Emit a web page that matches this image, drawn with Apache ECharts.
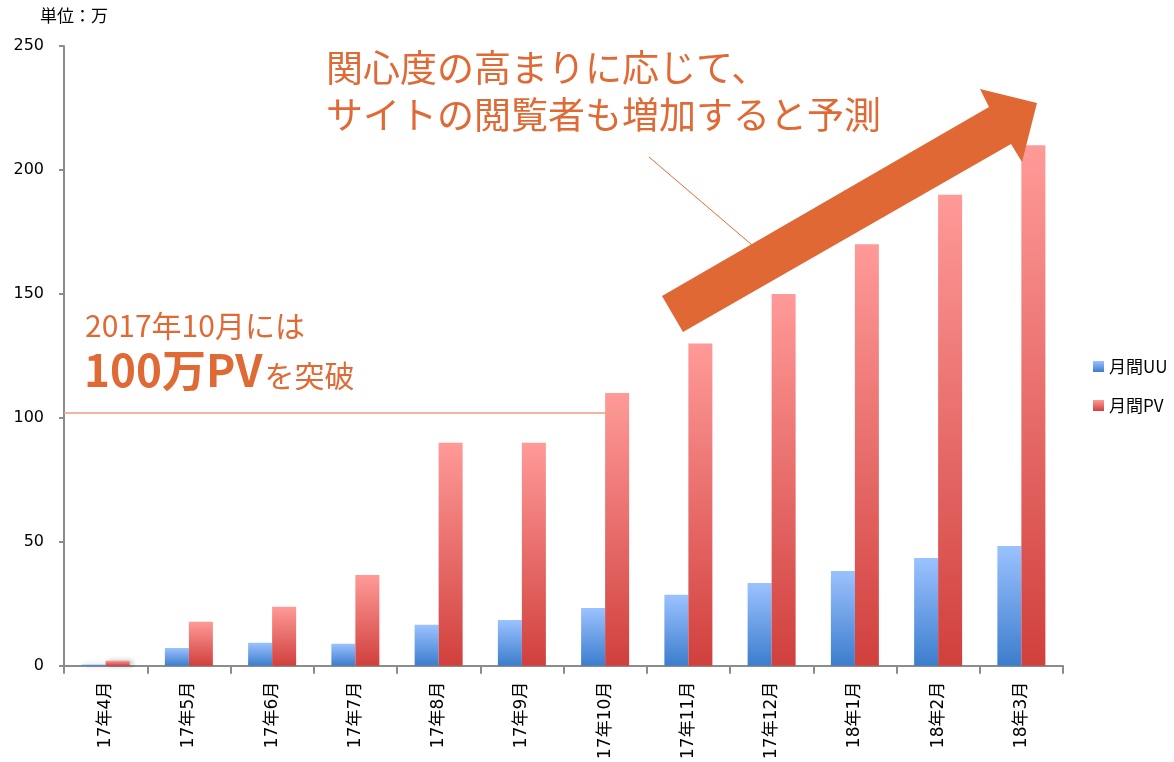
<!DOCTYPE html>
<html>
<head>
<meta charset="utf-8">
<script src="https://cdn.jsdelivr.net/npm/echarts@6/dist/echarts.min.js"></script>
<style>
html,body{margin:0;padding:0;background:#fff;}
#chart{width:1174px;height:762px;}
</style>
</head>
<body>
<div id="chart"></div>
<script>
const categories = ['17年4月','17年5月','17年6月','17年7月','17年8月','17年9月','17年10月','17年11月','17年12月','18年1月','18年2月','18年3月'];
const uuValues = [0.5, 7.2, 9.3, 8.9, 16.5, 18.5, 23.3, 28.6, 33.4, 38.2, 43.5, 48.3];
const pvValues = [2, 17.7, 23.8, 36.6, 90, 90, 110, 130, 150, 170, 190, 210];
const yTicks = { min: 0, max: 250, interval: 50 };
const thresholdValue = 102;

const chart = echarts.init(document.getElementById('chart'));
const numFont = '"DejaVu Sans", "Noto Sans CJK JP", sans-serif';
const jpFont = '"Noto Sans CJK JP", sans-serif';
const orange = '#E06A35';

const uuGrad = new echarts.graphic.LinearGradient(0, 0, 0, 1, [
  { offset: 0, color: '#9BC2FF' }, { offset: 1, color: '#3C7DCD' }
]);
const pvGrad = new echarts.graphic.LinearGradient(0, 0, 0, 1, [
  { offset: 0, color: '#FF9A98' }, { offset: 1, color: '#D0403D' }
]);

const option = {
  backgroundColor: '#fff',
  animation: false,
  grid: { left: 64, right: 111, top: 46, bottom: 95, containLabel: false },
  legend: {
    orient: 'vertical', left: 1088, top: 353, itemGap: 22,
    itemWidth: 11, itemHeight: 11, icon: 'rect',
    textStyle: { fontFamily: jpFont, fontSize: 17, color: '#000' },
    data: ['月間UU', '月間PV']
  },
  xAxis: {
    type: 'category', data: categories,
    axisLine: { lineStyle: { color: '#8c8c8c', width: 2 } },
    axisTick: { show: true, length: 8, alignWithLabel: false, lineStyle: { color: '#8c8c8c', width: 2 } },
    axisLabel: { rotate: 90, interval: 0, margin: 16, fontFamily: numFont, fontSize: 17, color: '#000' }
  },
  yAxis: {
    type: 'value', min: yTicks.min, max: yTicks.max, interval: yTicks.interval,
    splitLine: { show: false },
    axisLine: { show: true, lineStyle: { color: '#8c8c8c', width: 2 } },
    axisTick: { show: true, length: 5, lineStyle: { color: '#8c8c8c', width: 2 } },
    axisLabel: { fontFamily: numFont, fontSize: 16, color: '#000', margin: 20 }
  },
  series: [
    {
      name: '月間UU', type: 'bar', data: uuValues, barWidth: 24, barGap: '0%',
      itemStyle: { color: uuGrad, shadowColor: 'rgba(0,0,0,0.3)', shadowBlur: 5, shadowOffsetX: 3 }
    },
    {
      name: '月間PV', type: 'bar', data: pvValues, barWidth: 24, barGap: '0%',
      itemStyle: { color: pvGrad, shadowColor: 'rgba(0,0,0,0.3)', shadowBlur: 5, shadowOffsetX: 3 }
    }
  ],
  graphic: [
    { type: 'text', left: 40, top: 7, style: { text: '単位：万', fontFamily: jpFont, fontSize: 17, fill: '#000' } },
    { type: 'text', left: 85, top: 311, style: { text: '2017年10月には', fontFamily: jpFont, fontSize: 30, fill: orange } },
    { type: 'text', left: 84, top: 348, style: {
        rich: {
          b: { fontFamily: jpFont, fontSize: 44, fontWeight: 'bold', fill: orange },
          n: { fontFamily: jpFont, fontSize: 30, fill: orange, padding: [12, 0, 0, 2] }
        },
        text: '{b|100万PV}{n|を突破}'
      } },
    { type: 'text', left: 326, top: 44, style: {
        text: '関心度の高まりに応じて、\nサイトの閲覧者も増加すると予測',
        fontFamily: jpFont, fontSize: 37, lineHeight: 47, fill: orange } },
    { type: 'line', shape: { x1: 649, y1: 157, x2: 752, y2: 245 }, style: { stroke: orange, lineWidth: 1 }, z: 10 },
    { type: 'polygon', z: 20, shape: { points: [[662,296],[989,107],[980,89],[1037,103],[1022,162],[1011,144],[683,332]] },
      style: { fill: '#DF6834' } }
  ]
};
chart.setOption(option);

// threshold line at 102万, drawn through the 17年10月 PV bar
const yPix = chart.convertToPixel({ yAxisIndex: 0 }, thresholdValue);
const x0 = chart.convertToPixel({ xAxisIndex: 0 }, categories[0]) - chart.convertToPixel({ xAxisIndex: 0 }, categories[0]) + 64;
const xEnd = chart.convertToPixel({ xAxisIndex: 0 }, categories[6]) + 20;
chart.setOption({
  graphic: option.graphic.concat([
    { type: 'line', z: 15, shape: { x1: x0, y1: yPix, x2: xEnd, y2: yPix }, style: { stroke: '#EE9E80', lineWidth: 1.5 } }
  ])
});
</script>
</body>
</html>
